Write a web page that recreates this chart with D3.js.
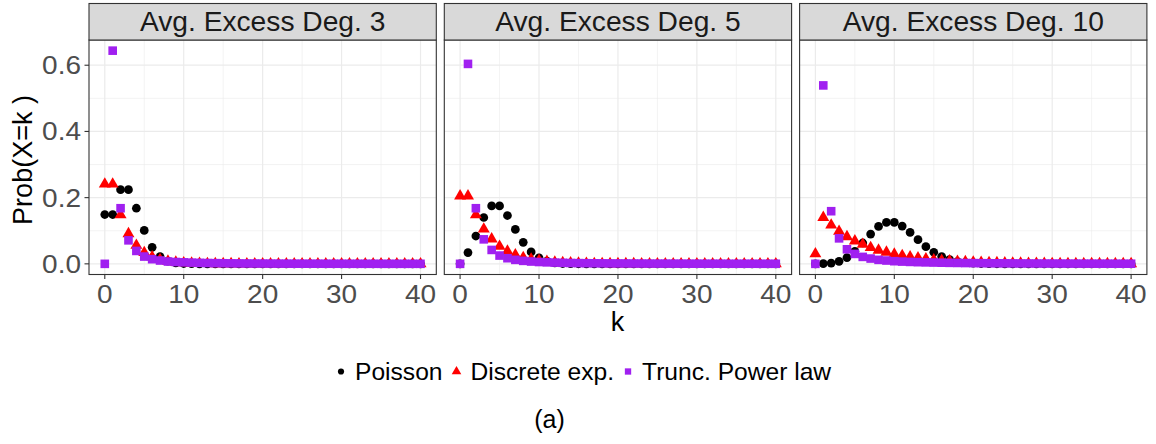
<!DOCTYPE html>
<html>
<head>
<meta charset="utf-8">
<script src="https://cdn.jsdelivr.net/npm/d3@7"></script>
<style>
body { margin: 0; background: #fff; }
svg { display: block; }
text { font-family: "Liberation Sans", Arial, sans-serif; }
</style>
</head>
<body>
<svg width="1156" height="444"></svg>
<script>
// k = 0..40
var ks = d3.range(0, 41);
var panelTitles = ["Avg. Excess Deg. 3", "Avg. Excess Deg. 5", "Avg. Excess Deg. 10"];
var seriesNames = ["Poisson", "Discrete exp.", "Trunc. Power law"];
var xTicks = [0, 10, 20, 30, 40];
var xMinor = [5, 15, 25, 35];
var yTicks = [0.0, 0.2, 0.4, 0.6];
var yMinor = [0.1, 0.3, 0.5];

// values, k = 0..40
var poisson3 = [0.149,0.149,0.224,0.224,0.168,0.101,0.050,0.022,0.008,0.003,0.001,0.0003,0.0001,
  0,0,0,0,0,0,0,0,0,0,0,0,0,0,0,0,0,0,0,0,0,0,0,0,0,0,0,0];
var discexp3 = [0.241,0.241,0.148,0.091,0.056,0.034,0.021,0.013,0.008,0.005,0.003,0.002,0.0012,0.0008,0.0005,0.0003,0.0002,0.0001,
  0.0001,0.0001,0,0,0,0,0,0,0,0,0,0,0,0,0,0,0,0,0,0,0,0,0];
var power3 = [0,0.644,0.168,0.071,0.039,0.022,0.014,0.010,0.007,0.0055,0.0045,0.0037,0.003,0.0025,0.0021,0.0018,0.0015,0.0013,0.0011,0.001,
  0.0009,0.0008,0.0007,0.0006,0.0005,0.0005,0.0004,0.0004,0.0003,0.0003,0.0003,0.0002,0.0002,0.0002,0.0002,0.0001,0.0001,0.0001,0.0001,0.0001,0.0001];

var poisson5 = [0,0.034,0.084,0.140,0.175,0.175,0.146,0.104,0.065,0.036,0.018,0.008,0.003,0.001,0.0005,0.0002,0.0001,
  0,0,0,0,0,0,0,0,0,0,0,0,0,0,0,0,0,0,0,0,0,0,0,0];
var discexp5 = [0.205,0.205,0.148,0.105,0.075,0.053,0.038,0.027,0.019,0.014,0.010,0.007,0.005,0.0035,0.0025,0.0018,0.0013,0.0009,0.0006,0.0005,
  0.0003,0.0002,0.0002,0.0001,0.0001,0.0001,0,0,0,0,0,0,0,0,0,0,0,0,0,0,0];
var power5 = [0,0.604,0.168,0.074,0.042,0.025,0.017,0.012,0.009,0.007,0.0055,0.0045,0.0037,0.0031,0.0026,0.0022,0.0019,0.0017,0.0015,0.0013,
  0.0012,0.0011,0.001,0.0009,0.0008,0.0007,0.0007,0.0006,0.0006,0.0005,0.0005,0.0004,0.0004,0.0004,0.0003,0.0003,0.0003,0.0003,0.0002,0.0002,0.0002];

var poisson10 = [0,0.0005,0.0023,0.0076,0.019,0.038,0.063,0.090,0.113,0.125,0.125,0.114,0.095,0.073,0.052,0.035,0.022,0.013,0.007,0.004,
  0.002,0.001,0.0005,0.0002,0.0001,0,0,0,0,0,0,0,0,0,0,0,0,0,0,0,0];
var discexp10 = [0.030,0.140,0.117,0.098,0.082,0.069,0.059,0.049,0.041,0.035,0.029,0.025,0.021,0.018,0.015,0.012,0.010,0.009,0.0075,0.0063,
  0.0053,0.0045,0.0038,0.0032,0.0027,0.0022,0.0019,0.0016,0.0013,0.0011,0.0009,0.0008,0.0007,0.0006,0.0005,0.0004,0.0003,0.0003,0.0002,0.0002,0.0002];
var power10 = [0,0.539,0.159,0.077,0.044,0.030,0.021,0.016,0.012,0.010,0.008,0.0068,0.0058,0.005,0.0044,0.0039,0.0034,0.003,0.0027,0.0024,
  0.0022,0.002,0.0018,0.0016,0.0015,0.0013,0.0012,0.0011,0.001,0.0009,0.0009,0.0008,0.0007,0.0007,0.0006,0.0006,0.0005,0.0005,0.0004,0.0004,0.0004];

var panelData = [
  [poisson3, discexp3, power3],
  [poisson5, discexp5, power5],
  [poisson10, discexp10, power10]
];

var colors = ["#000000", "#FF0000", "#A020F0"];
var symbols = [d3.symbolCircle, d3.symbolTriangle, d3.symbolSquare];
var sizes = [60, 62, 74];
var legendSizes = [30, 40, 40];

var svg = d3.select("svg");
var panelLeft = 89, panelW = 347.3, panelGap = 8;
var stripTop = 3.5, plotTop = 40, plotBottom = 274.5;
var tickStretch = 1.12;

var y = d3.scaleLinear().domain([-0.0322, 0.6762]).range([plotBottom, plotTop]);

panelData.forEach(function(series, p) {
  var left = panelLeft + p * (panelW + panelGap);
  var x = d3.scaleLinear().domain([-2, 42]).range([left, left + panelW]);
  var g = svg.append("g");

  // grid
  g.selectAll(".xminor").data(xMinor).enter().append("line")
    .attr("x1", x).attr("x2", x).attr("y1", plotTop).attr("y2", plotBottom)
    .attr("stroke", "#EBEBEB").attr("stroke-width", 0.6);
  g.selectAll(".yminor").data(yMinor).enter().append("line")
    .attr("y1", y).attr("y2", y).attr("x1", left).attr("x2", left + panelW)
    .attr("stroke", "#EBEBEB").attr("stroke-width", 0.6);
  g.selectAll(".xmajor").data(xTicks).enter().append("line")
    .attr("x1", x).attr("x2", x).attr("y1", plotTop).attr("y2", plotBottom)
    .attr("stroke", "#EBEBEB").attr("stroke-width", 1.2);
  g.selectAll(".ymajor").data(yTicks).enter().append("line")
    .attr("y1", y).attr("y2", y).attr("x1", left).attr("x2", left + panelW)
    .attr("stroke", "#EBEBEB").attr("stroke-width", 1.2);

  // points
  series.forEach(function(vals, s) {
    g.selectAll(".pt" + s).data(vals).enter().append("path")
      .attr("d", d3.symbol().type(symbols[s]).size(sizes[s]))
      .attr("transform", function(d, i) { return "translate(" + x(ks[i]) + "," + y(d) + ")"; })
      .attr("fill", colors[s]);
  });

  // border
  g.append("rect").attr("x", left).attr("y", plotTop).attr("width", panelW).attr("height", plotBottom - plotTop)
    .attr("fill", "none").attr("stroke", "#333333").attr("stroke-width", 1.1);

  // strip
  g.append("rect").attr("x", left).attr("y", stripTop).attr("width", panelW).attr("height", plotTop - stripTop)
    .attr("fill", "#D9D9D9").attr("stroke", "#333333").attr("stroke-width", 1.1);
  g.append("text").attr("x", left + panelW / 2).attr("y", 31)
    .attr("text-anchor", "middle").attr("font-size", 28.2).attr("fill", "#1A1A1A")
    .text(panelTitles[p]);

  // x axis ticks and labels
  g.selectAll(".xt").data(xTicks).enter().append("line")
    .attr("x1", x).attr("x2", x).attr("y1", plotBottom).attr("y2", plotBottom + 4.5)
    .attr("stroke", "#333333").attr("stroke-width", 1.1);
  g.selectAll(".xl").data(xTicks).enter().append("text")
    .attr("transform", function(d) { return "translate(" + x(d) + ",303) scale(" + tickStretch + ",1)"; })
    .attr("text-anchor", "middle").attr("font-size", 25).attr("fill", "#4D4D4D")
    .text(function(d) { return d; });

  if (p === 0) {
    g.selectAll(".yt").data(yTicks).enter().append("line")
      .attr("y1", y).attr("y2", y).attr("x1", left - 4.5).attr("x2", left)
      .attr("stroke", "#333333").attr("stroke-width", 1.1);
    g.selectAll(".yl").data(yTicks).enter().append("text")
      .attr("transform", function(d) { return "translate(81," + (y(d) + 9) + ") scale(" + tickStretch + ",1)"; })
      .attr("text-anchor", "end").attr("font-size", 25).attr("fill", "#4D4D4D")
      .text(function(d) { return d3.format(".1f")(d); });
  }
});

// axis titles
svg.append("text").attr("x", 617.5).attr("y", 331).attr("text-anchor", "middle")
  .attr("font-size", 27).attr("fill", "#000").text("k");
svg.append("text").attr("transform", "translate(32,160) rotate(-90)").attr("text-anchor", "middle")
  .attr("font-size", 27).attr("fill", "#000").text("Prob(X=k )");

// legend
var lg = svg.append("g");
var lx = 337;
seriesNames.forEach(function(name, s) {
  lg.append("path")
    .attr("d", d3.symbol().type(symbols[s]).size(legendSizes[s]))
    .attr("transform", "translate(" + (lx + 4) + ",371.5)")
    .attr("fill", colors[s]);
  var t = lg.append("text").attr("x", lx + 18).attr("y", 380)
    .attr("font-size", 24.6).attr("fill", "#000").text(name);
  lx = lx + 18 + t.node().getComputedTextLength() + 10;
});

// caption
svg.append("text").attr("x", 549.5).attr("y", 428).attr("text-anchor", "middle")
  .attr("font-family", "'Liberation Serif', 'DejaVu Serif', serif")
  .attr("font-size", 25).attr("fill", "#000").text("(a)");
</script>
</body>
</html>
